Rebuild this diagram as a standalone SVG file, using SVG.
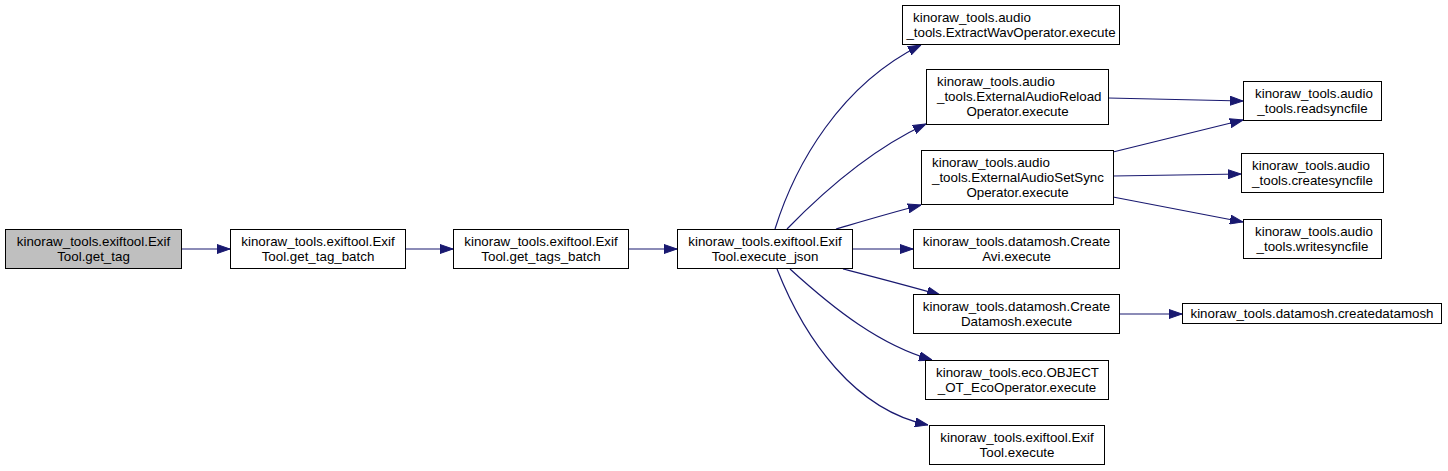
<svg xmlns="http://www.w3.org/2000/svg" width="1448" height="471" viewBox="0 0 1448 471">
<style>
.n rect{fill:#fff;stroke:#000;stroke-width:1}
.n.g rect{fill:#bfbfbf}
.n text{font-family:"Liberation Sans",Arial,Helvetica,sans-serif;font-size:13.33px;fill:#000}
.m{text-anchor:middle}
#edges path{fill:none;stroke:#191970;stroke-width:1.2;marker-end:url(#ah)}
</style>
<defs>
<marker id="ah" markerUnits="userSpaceOnUse" markerWidth="13" markerHeight="10" viewBox="0 0 13 10" refX="13" refY="5" orient="auto">
<path d="M0,0.5 L13,5 L0,9.5 z" fill="#191970" stroke="#191970" stroke-width="1"/>
</marker>
</defs>
<rect width="1448" height="471" fill="#fff"/>
<g id="edges">
<path d="M181,249 L230,249"/>
<path d="M405,249 L453,249"/>
<path d="M628,249 L677,249"/>
<path d="M775,229 C795,165 840,85 921,45"/>
<path d="M787,229 C820,195 870,150 926,124"/>
<path d="M836,229 C860,222 890,213 921,205"/>
<path d="M853,249 L913,249"/>
<path d="M843,269 C870,276 905,285 940,295"/>
<path d="M790,269 C835,310 880,345 932,360"/>
<path d="M777,269 C805,340 855,410 928,425"/>
<path d="M1108,98 L1243,101"/>
<path d="M1113,152 L1243,120"/>
<path d="M1113,176 L1241,174"/>
<path d="M1113,197 L1243,222"/>
<path d="M1120,314 L1182,314"/>
</g>
<g id="get_tag" class="n g"><rect x="5.5" y="229.5" width="176" height="39"/><text x="93.5" y="246" class="m">kinoraw_tools.exiftool.Exif</text><text x="93.5" y="261" class="m">Tool.get_tag</text></g>
<g id="get_tag_batch" class="n"><rect x="230.5" y="229.5" width="175" height="39"/><text x="318" y="246" class="m">kinoraw_tools.exiftool.Exif</text><text x="318" y="261" class="m">Tool.get_tag_batch</text></g>
<g id="get_tags_batch" class="n"><rect x="453.5" y="229.5" width="175" height="39"/><text x="541" y="246" class="m">kinoraw_tools.exiftool.Exif</text><text x="541" y="261" class="m">Tool.get_tags_batch</text></g>
<g id="execute_json" class="n"><rect x="677.5" y="229.5" width="175" height="39"/><text x="765" y="246" class="m">kinoraw_tools.exiftool.Exif</text><text x="765" y="261" class="m">Tool.execute_json</text></g>
<g id="extractwav" class="n"><rect x="902.5" y="5.5" width="217" height="39"/><text x="913" y="22">kinoraw_tools.audio</text><text x="1011" y="37" class="m">_tools.ExtractWavOperator.execute</text></g>
<g id="reload" class="n"><rect x="926.5" y="69.5" width="182" height="55"/><text x="937" y="86">kinoraw_tools.audio</text><text x="937" y="101">_tools.ExternalAudioReload</text><text x="1017.5" y="116" class="m">Operator.execute</text></g>
<g id="setsync" class="n"><rect x="921.5" y="150.5" width="192" height="54"/><text x="932" y="167">kinoraw_tools.audio</text><text x="932" y="182">_tools.ExternalAudioSetSync</text><text x="1017.5" y="197" class="m">Operator.execute</text></g>
<g id="createavi" class="n"><rect x="913.5" y="229.5" width="206" height="39"/><text x="1016.5" y="246" class="m">kinoraw_tools.datamosh.Create</text><text x="1016.5" y="261" class="m">Avi.execute</text></g>
<g id="datamosh" class="n"><rect x="913.5" y="294.5" width="206" height="39"/><text x="1016.5" y="311" class="m">kinoraw_tools.datamosh.Create</text><text x="1016.5" y="326" class="m">Datamosh.execute</text></g>
<g id="eco" class="n"><rect x="925.5" y="360.5" width="183" height="39"/><text x="936" y="377">kinoraw_tools.eco.OBJECT</text><text x="1017" y="392" class="m">_OT_EcoOperator.execute</text></g>
<g id="exif_execute" class="n"><rect x="929.5" y="425.5" width="175" height="39"/><text x="1017" y="442" class="m">kinoraw_tools.exiftool.Exif</text><text x="1017" y="457" class="m">Tool.execute</text></g>
<g id="readsyncfile" class="n"><rect x="1243.5" y="81.5" width="138" height="39"/><text x="1255" y="98">kinoraw_tools.audio</text><text x="1312.5" y="113" class="m">_tools.readsyncfile</text></g>
<g id="createsyncfile" class="n"><rect x="1241.5" y="153.5" width="142" height="39"/><text x="1252" y="170">kinoraw_tools.audio</text><text x="1312.5" y="185" class="m">_tools.createsyncfile</text></g>
<g id="writesyncfile" class="n"><rect x="1243.5" y="219.5" width="138" height="39"/><text x="1255" y="236">kinoraw_tools.audio</text><text x="1312.5" y="251" class="m">_tools.writesyncfile</text></g>
<g id="createdatamosh" class="n"><rect x="1182.5" y="303.5" width="259" height="20"/><text x="1312" y="318" class="m">kinoraw_tools.datamosh.createdatamosh</text></g>
</svg>
